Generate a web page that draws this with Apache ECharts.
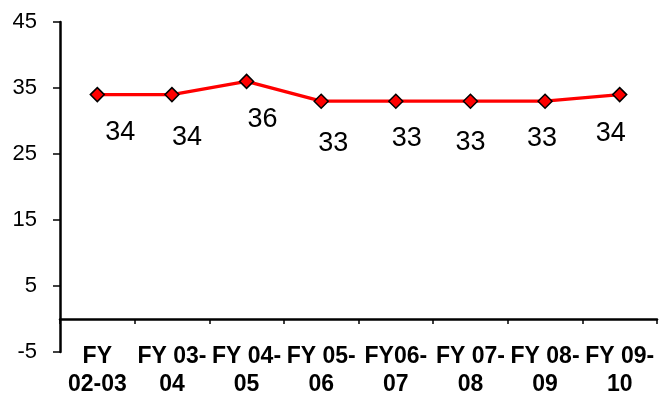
<!DOCTYPE html>
<html>
<head>
<meta charset="utf-8">
<script src="https://cdn.jsdelivr.net/npm/echarts@6/dist/echarts.min.js"></script>
<style>
  html, body { margin: 0; padding: 0; background: #ffffff; }
  #chart { width: 660px; height: 401px; }
</style>
</head>
<body>
<div id="chart"></div>
<script>
// Categories (wrapped as in the original chart)
const fiscalYears = ["FY\n02-03", "FY 03-\n04", "FY 04-\n05", "FY 05-\n06", "FY06-\n07", "FY 07-\n08", "FY 08-\n09", "FY 09-\n10"];

// Series values
const values = [34, 34, 36, 33, 33, 33, 33, 34];

// Y axis ticks
const yMin = -5;
const yMax = 45;
const yStep = 10;

// Data label nudges (label placement only)
const labelNudge = [[23, 38], [15, 43], [16, 38], [12, 42], [11, 37], [0, 41], [-3, 37], [-9, 39]];

const chart = echarts.init(document.getElementById("chart"));

const option = {
    animation: false,
    backgroundColor: "#ffffff",
    textStyle: { fontFamily: "Liberation Sans, Arial, sans-serif" },

    // GRID
    grid: { left: 60, right: 3, top: 22, bottom: 49, containLabel: false, outerBoundsMode: "none" },

    // XAXIS
    xAxis: {
        type: "category",
        data: fiscalYears,
        boundaryGap: true,
        axisLine: { onZero: true, lineStyle: { color: "#000000", width: 2.5 } },
        axisTick: { show: true, length: 5, lineStyle: { color: "#000000", width: 1.5 } },
        axisLabel: {
            interval: 0,
            margin: -9,
            color: "#000000",
            fontSize: 23,
            fontWeight: "bold",
            lineHeight: 28,
            fontFamily: "Liberation Sans, Arial, sans-serif"
        },
        splitLine: { show: false }
    },

    // YAXIS
    yAxis: {
        type: "value",
        min: yMin,
        max: yMax,
        interval: yStep,
        axisLine: { show: true, lineStyle: { color: "#000000", width: 2.5 } },
        axisTick: { show: true, length: 7, lineStyle: { color: "#000000", width: 1.5 } },
        axisLabel: {
            margin: 23,
            color: "#000000",
            fontSize: 22,
            fontFamily: "Liberation Sans, Arial, sans-serif"
        },
        splitLine: { show: false }
    },

    // SERIES
    series: [{
        type: "line",
        data: values.map((v, i) => ({
            value: v,
            label: { offset: labelNudge[i] }
        })),
        lineStyle: { color: "#ff0000", width: 3.3 },
        symbol: "diamond",
        symbolSize: [14, 14],
        itemStyle: { color: "#ff0000", borderColor: "#000000", borderWidth: 1.5 },
        label: {
            show: true,
            position: "inside",
            color: "#000000",
            fontSize: 27,
            fontFamily: "Liberation Sans, Arial, sans-serif"
        },
        z: 3
    }]
};

chart.setOption(option);
</script>
</body>
</html>
